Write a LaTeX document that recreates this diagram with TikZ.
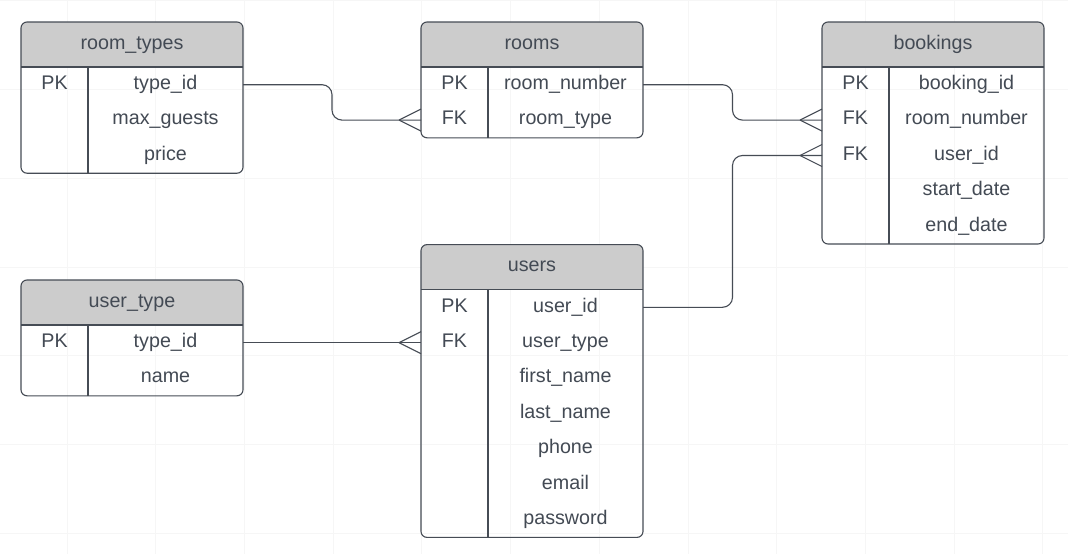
\documentclass[tikz,border=0pt]{standalone}
\usepackage{fontspec}
\setmainfont{Liberation Sans}
\usetikzlibrary{calc}
\definecolor{ink}{HTML}{434A54}
\definecolor{edgec}{HTML}{464C55}
\definecolor{hdr}{HTML}{CCCCCC}
\definecolor{gridc}{HTML}{F6F6F6}
\tikzset{
 txt/.style={text=ink, inner sep=0pt, text height=14pt, text depth=4.5pt, font=\fontsize{19.7}{23}\selectfont},
 tabline/.style={draw=edgec, line width=1.1pt},
 conn/.style={draw=edgec, line width=1.1pt, rounded corners=10pt},
 crowline/.style={draw=edgec, line width=1.1pt},
 gridline/.style={draw=gridc, line width=0.8pt},
}
\newcommand\ertable[6]{% #1 name, #2 x, #3 y, #4 title, #5 rows, #6 list
 \begin{scope}[shift={(#2,#3)}]
  \pgfmathsetmacro\H{45+35.4*#5}
  \begin{scope}
   \clip[rounded corners=6pt] (0,0) rectangle (222,\H);
   \fill[hdr] (0,0) rectangle (222,45);
  \end{scope}
  \draw[tabline,rounded corners=6pt] (0,0) rectangle (222,\H);
  \draw[tabline] (0,45) -- (222,45);
  \draw[tabline] (67,45) -- (67,\H);
  \node[txt] (#1) at (111,22.5) {#4};
  \foreach[count=\i] \k/\f in {#6} {
    \pgfmathsetmacro\yc{45+35.4*\i-17.7}
    \node[txt] (#1-k\i) at (33.5,\yc) {\k};
    \node[txt] (#1-f\i) at (144.5,\yc) {\f};
    \coordinate (#1-\i-w) at (0,\yc);
    \coordinate (#1-\i-e) at (222,\yc);
  }
 \end{scope}}
\newcommand\crowfoot[1]{%
 \draw[crowline] ($(#1)+(-22,0)$) -- ($(#1)+(0,-11)$)
                 ($(#1)+(-22,0)$) -- ($(#1)+(0,11)$);}
\begin{document}
\begin{tikzpicture}[x=1pt,y=-1pt]
\fill[white] (0,0) rectangle (1068,554);
\useasboundingbox (0,0) rectangle (1068,554);
\foreach \gx in {0,...,11} \draw[gridline] ({67+88.7*\gx},0) -- ({67+88.7*\gx},554);
\foreach \gy in {0,...,6} \draw[gridline] (0,{0.8+88.7*\gy}) -- (1068,{0.8+88.7*\gy});

\ertable{rt}{21}{22}{room\_types}{3}{PK/type\_id, /max\_guests, /price}
\ertable{rm}{421}{22}{rooms}{2}{PK/room\_number, FK/room\_type}
\ertable{bk}{822}{22}{bookings}{5}{PK/booking\_id, FK/room\_number, FK/user\_id, /start\_date, /end\_date}
\ertable{ut}{21}{280}{user\_type}{2}{PK/type\_id, /name}
\ertable{us}{421}{244.6}{users}{7}{PK/user\_id, FK/user\_type, /first\_name, /last\_name, /phone, /email, /password}

\coordinate (m1) at ($(rt-1-e)!0.5!(rm-2-w)$);
\coordinate (m2) at ($(rm-1-e)!0.5!(bk-2-w)$);
\coordinate (m3) at ($(us-1-e)!0.5!(bk-3-w)$);

\draw[conn] (rt-1-e) -- (m1 |- rt-1-e) -- (m1 |- rm-2-w) -- (rm-2-w);
\draw[conn] (rm-1-e) -- (m2 |- rm-1-e) -- (m2 |- bk-2-w) -- (bk-2-w);
\draw[conn] (us-1-e) -- (m3 |- us-1-e) -- (m3 |- bk-3-w) -- (bk-3-w);
\draw[conn] (ut-1-e) -- (us-2-w);

\crowfoot{rm-2-w}
\crowfoot{bk-2-w}
\crowfoot{bk-3-w}
\crowfoot{us-2-w}
\end{tikzpicture}
\end{document}
